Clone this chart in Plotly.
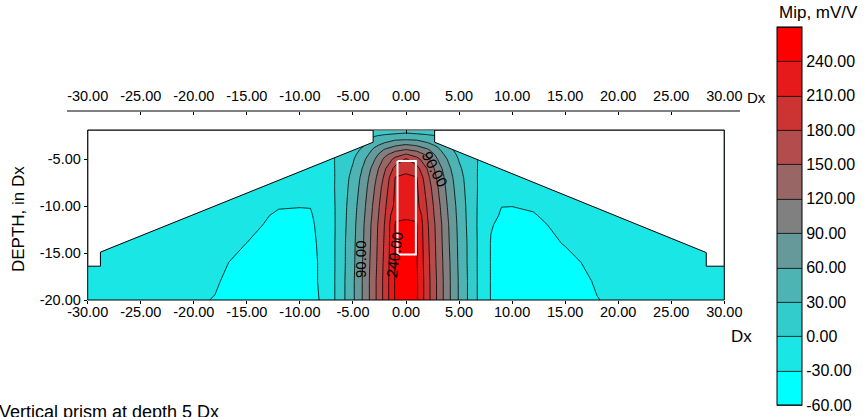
import plotly.graph_objects as go

# ---- model grid: horizontal position (Dx) and depth (Dx) ----
x_nodes = [-30, -27, -24, -21, -18, -15, -12, -10, -9, -8, -7, -6, -5, -4, -3, -2, -1,
           0, 1, 2, 3, 4, 5, 6, 7, 8, 9, 10, 12, 15, 18, 21, 24, 27, 30]
depth_nodes = [-2, -2.5, -3, -3.5, -4, -4.5, -5, -6, -7, -8, -10, -11, -12, -14, -16, -18, -20]

# apparent chargeability Mip, mV/V (one row per depth node)
mip_depth_2 = [-12, -14, -16, -17, -18, -18, -17, -15, -12, -8, -2, 3, 8, 12, 16, 19, 21,
               22, 21, 19, 16, 12, 8, 3, -2, -8, -12, -15, -17, -18, -18, -17, -16, -14, -12]
mip_depth_2_5 = [-12, -14, -16, -17, -18, -18, -17, -15, -13, -9, -2, 5, 13, 21, 28.5, 33, 36,
                 40, 36, 33, 29, 21, 13, 5, -2, -9, -13, -15, -17, -18, -18, -17, -16, -14, -12]
mip_depth_3 = [-12, -14, -16, -17, -18, -18, -18, -16, -14, -10, -3, 6, 15, 24, 36, 50, 61,
               63, 61, 51, 37, 25, 16, 6, -3, -10, -14, -16, -18, -18, -18, -17, -16, -14, -12]
mip_depth_3_5 = [-13, -15, -16, -17, -18, -19, -18, -17, -15, -11, -3, 7, 17, 28, 52, 70, 85,
                 93, 86, 71, 53, 29, 18, 7, -3, -11, -15, -17, -18, -19, -18, -17, -16, -15, -13]
mip_depth_4 = [-13, -15, -17, -18, -19, -19, -18, -17, -15, -11, -3, 8, 20, 36, 66, 93, 111,
               121, 112, 95, 67, 37, 21, 9, -3, -11, -15, -17, -18, -19, -19, -18, -17, -15, -13]
mip_depth_4_5 = [-13, -15, -17, -18, -19, -19, -19, -18, -16, -12, -4, 9.5, 23, 45, 77, 112, 137,
                 152, 138, 114, 79, 46, 24, 10, -4, -12, -16, -18, -19, -19, -19, -18, -17, -15, -13]
mip_depth_5 = [-13, -15, -17, -18, -19, -19, -19, -18, -16, -12, -4, 11, 27, 54, 87, 127, 159,
               183, 160, 129, 89, 56, 28, 12, -4, -12, -16, -18, -19, -19, -19, -18, -17, -15, -13]
mip_depth_6 = [-14, -16, -18, -19, -20, -20, -20, -19, -17, -13, -5, 13, 33, 64, 102, 146, 190,
               200, 191, 149, 105, 67, 35, 14, -5, -13, -17, -19, -20, -20, -20, -19, -18, -16, -14]
mip_depth_7 = [-15, -17, -19, -20, -21, -22, -22, -21, -19, -15, -6, 15, 39, 71, 111, 157, 212,
               218, 212, 160, 114, 74, 41, 16, -6, -15, -19, -21, -22, -22, -21, -20, -19, -17, -15]
mip_depth_8 = [-16, -18, -20, -21, -22, -23, -24, -24, -22, -17, -6, 16, 42, 75, 118, 165, 214,
               226, 215, 168, 121, 78, 44, 17, -6, -17, -22, -24, -24, -23, -22, -21, -20, -18, -16]
mip_depth_10 = [-17, -19, -21, -23, -25, -27, -29.5, -29.7, -29.5, -22, -8, 18, 47, 82, 127, 175, 218,
                230, 219, 178, 130, 85, 49, 19, -8, -22, -29.8, -29.9, -29.2, -26, -24, -22, -20, -18, -17]
mip_depth_11 = [-17.5, -19.5, -21.5, -23.5, -25.5, -27.5, -31, -31.5, -31.5, -24, -8.5, 18.5, 48.5, 85,
                130, 178, 236, 237, 236, 181, 133, 88, 50.5, 19.5, -8.5, -26, -31.5, -31.8, -30.5,
                -26.8, -24.5, -22.5, -20.5, -18.5, -17.5]
mip_depth_12 = [-18, -20, -22, -24, -26, -28, -32, -32, -33, -25, -9, 19, 50, 88, 134, 182, 242,
                244, 242, 185, 137, 91, 52, 20, -9, -29, -33, -33, -32, -27.5, -25, -23, -21, -19, -18]
mip_depth_14 = [-19, -21, -23, -25, -27, -30.1, -34, -34, -35, -26, -9, 21, 52, 90, 136, 185, 242,
                260, 243, 188, 139, 93, 54, 22, -9, -31, -34, -34, -34, -29.5, -26, -24, -22, -20, -19]
mip_depth_16 = [-20, -22, -24, -26, -28.5, -32, -36, -35, -36, -27, -9, 21, 53, 94, 138, 188, 242,
                265, 243, 191, 141, 96, 55, 22, -9, -31, -35, -35, -35, -33, -27, -25, -23, -21, -20]
mip_depth_18 = [-21, -23, -25, -27, -29, -35, -38, -37, -36, -27, -9, 22, 55, 95, 141, 190, 244,
                267, 245, 193, 144, 97, 57, 23, -9, -31, -36, -37, -38, -35, -29, -26, -24, -22, -20]
mip_depth_20 = [-22, -24, -26, -28, -30.4, -36, -40, -38, -38, -28, -9, 22, 55, 95, 141, 190, 244,
                268, 245, 193, 144, 97, 57, 23, -9, -31, -37, -38, -40, -36, -30.3, -27, -25, -23, -21]

mip_grid = [mip_depth_2, mip_depth_2_5, mip_depth_3, mip_depth_3_5, mip_depth_4, mip_depth_4_5,
            mip_depth_5, mip_depth_6, mip_depth_7, mip_depth_8, mip_depth_10, mip_depth_11,
            mip_depth_12, mip_depth_14, mip_depth_16, mip_depth_18, mip_depth_20]

# contour levels / colour classes (lowest class first)
mip_min, mip_max, level_step = -60, 270, 30
band_colors = ["#00ffff", "#1ae6e6", "#33cccc", "#4db3b3", "#669999", "#808080",
               "#996666", "#b34d4d", "#cc3333", "#e61a1a", "#ff0000"]
colorbar_ticks = [-60, -30, 0, 30, 60, 90, 120, 150, 180, 210, 240]

# pseudosection outline (points outside it are blanked)
top_of_section = -1.9
left_blank_x = [-30, -30, -28.8, -28.8, -3.1, -3.1]
left_blank_y = [top_of_section, -16.4, -16.4, -14.9, -3.2, top_of_section]
right_blank_x = [2.7, 2.7, 28.3, 28.3, 30, 30]
right_blank_y = [top_of_section, -3.2, -14.95, -16.4, -16.4, top_of_section]

# source body: vertical prism
prism_x = [-0.8, 0.93, 0.93, -0.8, -0.8]
prism_y = [-5.2, -5.2, -15.15, -15.15, -5.2]

# labelled isolines: (text, x, depth, angle)
isoline_labels = [("90.00", -4.3, -15.6, -90),
                  ("240.00", -1.05, -15.2, -82),
                  ("90.00", 2.75, -6.1, 62)]

x_ticks = [-30, -25, -20, -15, -10, -5, 0, 5, 10, 15, 20, 25, 30]
depth_ticks = [-5, -10, -15, -20]

FONT = "Liberation Sans, Arial, sans-serif"
W, H = 865, 417


def fmt(v):
    return f"{v:.2f}"


def px_x(p):
    return p / W


def px_y(p):
    return (H - p) / H


def polygon_path(xs, ys):
    pts = [f"{x},{y}" for x, y in zip(xs, ys)]
    return "M " + " L ".join(pts) + " Z"


# stepped colour scale: one flat colour per 30 mV/V class
n_bands = len(band_colors)
colorscale = []
for k, c in enumerate(band_colors):
    colorscale.append([k / n_bands, c])
    colorscale.append([(k + 1) / n_bands, c])

fig = go.Figure()

fig.add_trace(go.Contour(
    x=x_nodes, y=depth_nodes, z=mip_grid,
    autocontour=False, zmin=mip_min, zmax=mip_max,
    contours=dict(start=mip_min, end=mip_max, size=level_step,
                  coloring="fill", showlines=True),
    line=dict(color="black", width=0.8, smoothing=0),
    colorscale=colorscale,
    hoverinfo="skip",
    colorbar=dict(
        x=px_x(777), xanchor="left", y=px_y(216), yanchor="middle",
        len=378 / H, lenmode="fraction", thickness=25, thicknessmode="pixels",
        xpad=0, ypad=0, outlinewidth=1, outlinecolor="black",
        tickvals=colorbar_ticks, ticktext=[fmt(v) for v in colorbar_ticks],
        ticks="", tickfont=dict(family=FONT, size=16, color="black"),
    ),
))

fig.add_trace(go.Scatter(
    x=prism_x, y=prism_y, mode="lines",
    line=dict(color="white", width=2), hoverinfo="skip", showlegend=False,
))

# placeholders so the extra axes are laid out
fig.add_trace(go.Scatter(x=[None], y=[None], xaxis="x2", yaxis="y", showlegend=False, hoverinfo="skip"))
fig.add_trace(go.Scatter(x=[None], y=[None], xaxis="x3", yaxis="y", showlegend=False, hoverinfo="skip"))
fig.add_trace(go.Scatter(x=[None], y=[None], xaxis="x", yaxis="y2", showlegend=False, hoverinfo="skip"))

x_dom = [px_x(87.7), px_x(724.3)]
y_dom = [px_y(300), px_y(130)]
tick_font = dict(family=FONT, size=14.5, color="black")

fig.update_layout(
    width=W, height=H, margin=dict(l=0, r=0, t=0, b=0, autoexpand=False),
    paper_bgcolor="white", plot_bgcolor="white", showlegend=False,
    font=dict(family=FONT, color="black"),
    xaxis=dict(domain=x_dom, range=[-30, 30], anchor="y",
               tickvals=x_ticks, ticktext=[fmt(v) for v in x_ticks],
               ticks="outside", ticklen=3, tickcolor="black", ticklabelstandoff=-4,
               showgrid=False, zeroline=False, showline=False, tickfont=tick_font),
    yaxis=dict(domain=y_dom, range=[-20, top_of_section], anchor="x",
               tickvals=depth_ticks, ticktext=[fmt(v) for v in depth_ticks],
               ticks="outside", ticklen=3, tickcolor="black",
               showgrid=False, zeroline=False, showline=False, tickfont=tick_font),
    xaxis2=dict(overlaying="x", anchor="free", position=px_y(111), side="top",
                range=[-30, 30], tickvals=x_ticks, ticktext=[fmt(v) for v in x_ticks],
                ticks="inside", ticklen=3, tickcolor="black", ticklabelstandoff=7,
                showgrid=False, zeroline=False, showline=False, tickfont=tick_font),
    xaxis3=dict(overlaying="x", anchor="y", side="top", range=[-30, 30],
                tickvals=x_ticks, ticks="inside", ticklen=4, tickcolor="black",
                showticklabels=False, showgrid=False, zeroline=False, showline=False),
    yaxis2=dict(overlaying="y", anchor="x", side="right", range=[-20, top_of_section],
                tickvals=depth_ticks, ticks="inside", ticklen=4, tickcolor="black",
                showticklabels=False, showgrid=False, zeroline=False, showline=False),
)

# blank the area outside the pseudosection
for bx, by in ((left_blank_x, left_blank_y), (right_blank_x, right_blank_y)):
    fig.add_shape(type="path", path=polygon_path(bx, by), xref="x", yref="y",
                  fillcolor="white", line=dict(color="black", width=1), layer="above")

# frame around the section
fig.add_shape(type="rect", xref="x domain", yref="y domain", x0=0, x1=1, y0=0, y1=1,
              line=dict(color="black", width=1), layer="above")
# separate top distance scale
fig.add_shape(type="line", xref="paper", yref="paper", x0=px_x(67), x1=px_x(740),
              y0=px_y(111), y1=px_y(111), line=dict(color="black", width=1), layer="above")

for text, lx, ly, ang in isoline_labels:
    fig.add_annotation(x=lx, y=ly, xref="x", yref="y", text=text, showarrow=False,
                       textangle=ang, font=dict(family=FONT, size=15, color="black"))


def paper_text(text, x_px, y_px, size, angle=0, xanchor="center"):
    fig.add_annotation(x=px_x(x_px), y=px_y(y_px), xref="paper", yref="paper", text=text,
                       xanchor=xanchor, yanchor="middle", textangle=angle, showarrow=False,
                       font=dict(family=FONT, size=size, color="black"))


paper_text("Dx", 756, 97, 15)
paper_text("Dx", 741, 336, 17)
paper_text("DEPTH, in Dx", 18, 219, 17, angle=-90)
paper_text("Mip, mV/V", 818, 12, 17)
paper_text("Vertical prism at depth 5 Dx", -3, 412, 18, xanchor="left")

fig.write_html("out.html", config={"displayModeBar": False})
